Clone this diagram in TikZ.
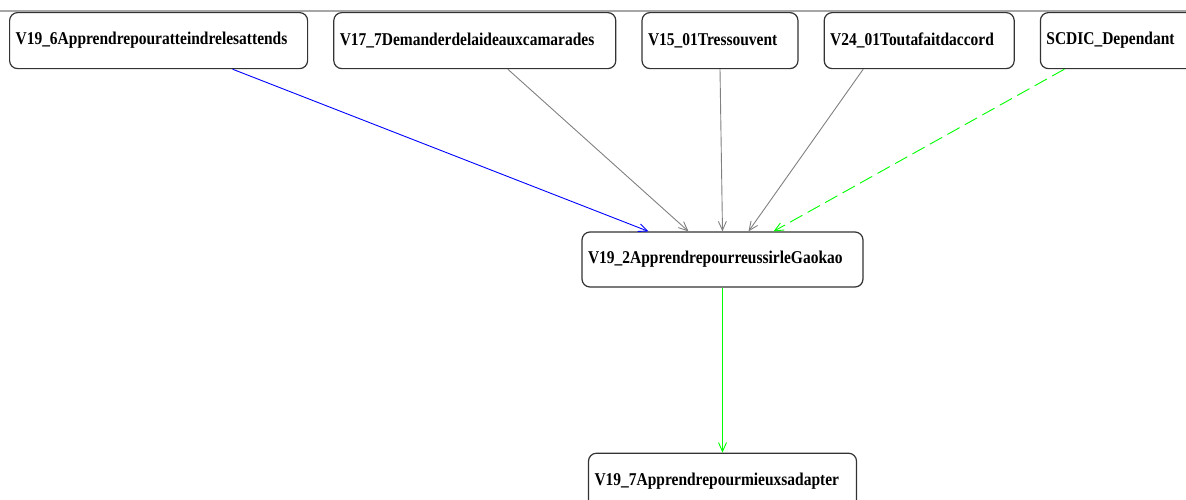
\documentclass[tikz,border=0pt]{standalone}
\usepackage{fontspec}
\usepackage{tikz}
\usetikzlibrary{arrows.meta, positioning}
\newfontfamily\varfont[FakeStretch=0.86]{Liberation Serif}
\definecolor{edgeblue}{HTML}{0000FF}
\definecolor{edgegray}{HTML}{808080}
\definecolor{edgegreen}{HTML}{00FF00}
\definecolor{frame}{HTML}{333333}
\tikzset{
	var/.style={draw=frame, line width=1.2pt, rounded corners=8pt, fill=white,
		minimum height=56pt, inner xsep=6pt, inner ysep=0pt, align=left,
		font=\varfont\bfseries\fontsize{18}{20}\selectfont},
	arr/.style={-{Straight Barb[length=9pt, width=8pt]}, line width=0.9pt},
}

\begin{document}
\begin{tikzpicture}[x=1pt, y=-1pt]
				\useasboundingbox (0,0) rectangle (1186,499);
				\draw[edgegray!70, line width=1.5pt] (0,11) -- (1186,11);
				\node[var, text width=286pt, anchor=north west] (v196) at (9,12) {V19\_6Apprendrepouratteindrelesattends};
				\node[var, text width=270pt, right=25pt of v196] (v177) {V17\_7Demanderdelaideauxcamarades};
				\node[var, text width=144pt, right=25pt of v177] (v1501) {V15\_01Tressouvent};
				\node[var, text width=178pt, right=25pt of v1501] (v2401) {V24\_01Toutafaitdaccord};
				\node[var, text width=158pt, right=25pt of v2401] (scdic) {SCDIC\_Dependant};
				\node[var, text width=269pt, minimum height=55pt] (gaokao) at (722.5,259.5) {V19\_2ApprendrepourreussirleGaokao};
				\node[var, text width=256pt, minimum height=55pt, below=165pt of gaokao] (adapter) {V19\_7Apprendrepourmieuxsadapter};
				\draw[arr, edgeblue] ([xshift=74pt]v196.south) -- ([xshift=-74pt]gaokao.north);
				\draw[arr, edgegray] ([xshift=33pt]v177.south) -- ([xshift=-34pt]gaokao.north);
				\draw[arr, edgegray] (v1501.south) -- (gaokao.north);
				\draw[arr, edgegray] ([xshift=-56pt]v2401.south) -- ([xshift=26pt]gaokao.north);
				\draw[arr, edgegreen, dash pattern=on 14pt off 6pt] ([xshift=-61pt]scdic.south) -- ([xshift=51pt]gaokao.north);
				\draw[arr, edgegreen] (gaokao.south) -- (adapter.north);
			\end{tikzpicture}
\end{document}
